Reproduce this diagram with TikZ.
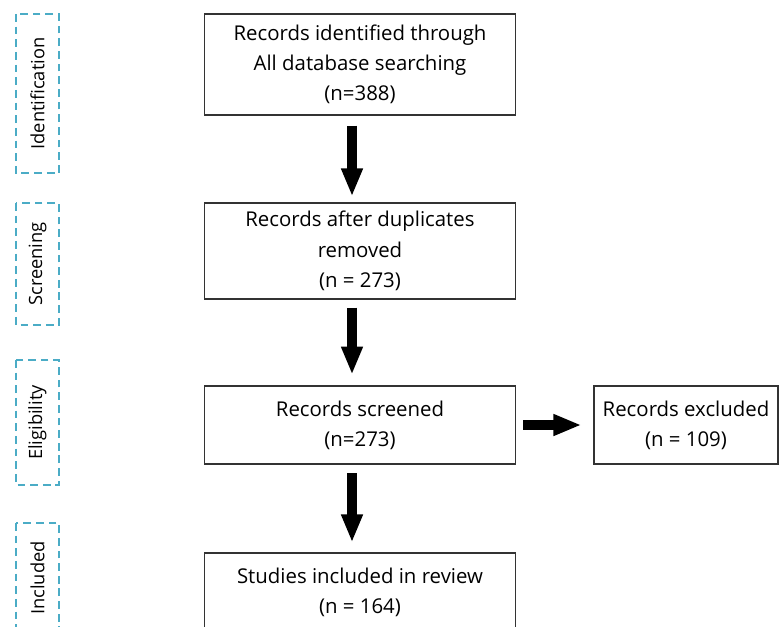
\documentclass[tikz,border=0pt]{standalone}
\usepackage{fontspec}
\setmainfont{Open Sans}
\usetikzlibrary{arrows.meta}
\definecolor{phaseBlue}{HTML}{4BACC6}

\begin{document}
\begin{tikzpicture}[
      x=0.025cm, y=-0.025cm,
      font=\fontsize{14.5}{21.5}\selectfont,
      box/.style={draw=black!80, line width=0.8pt, minimum width=7.78cm,
                  align=center, inner sep=0pt},
      phase/.style={draw=phaseBlue, line width=1.4pt, dash pattern=on 5.5pt off 3.5pt,
                    rotate=90, minimum height=1.075cm, inner sep=0pt,
                    font=\fontsize{13}{15}\selectfont},
      blockarrow/.style={line width=0.25cm, -{Triangle[width=0.5cm, length=0.7cm]}}
    ]
    \useasboundingbox (0,0) rectangle (780,626);
    % stages on the left
    \node[phase, minimum width=3.975cm] (idlab) at (37.5,93.5) {Identification};
    \node[phase, minimum width=3.05cm]  (scrlab) at (37.5,264) {Screening};
    \node[phase, minimum width=3.125cm] (eliglab) at (37.5,422.5) {Eligibility};
    \node[phase, minimum width=2.75cm]  (incllab) at (37.5,578) {Included};
    % main boxes
    \node[box, minimum height=2.525cm] (ident) at (360,64.5)
      {Records identified through\\All database searching\\(n=388)};
    \node[box, minimum height=2.4cm] (dedup) at (360,251)
      {Records after duplicates\\removed\\(n = 273)};
    \node[box, minimum height=1.95cm] (screened) at (360,425)
      {Records screened\\(n=273)};
    \node[box, minimum width=4.6cm, minimum height=1.95cm] (excl) at (686,425)
      {Records excluded\\(n = 109)};
    \node[box, minimum height=1.95cm] (incl) at (360,592)
      {Studies included in review\\(n = 164)};
    % arrows
    \draw[blockarrow, shorten <=0.25cm, shorten >=0.15cm]
      ([xshift=-0.2cm]ident.south) -- ([xshift=-0.2cm]dedup.north);
    \draw[blockarrow, shorten <=0.2cm, shorten >=0.27cm]
      ([xshift=-0.2cm]dedup.south) -- ([xshift=-0.2cm]screened.north);
    \draw[blockarrow, shorten <=0.22cm, shorten >=0.25cm]
      ([xshift=-0.2cm]screened.south) -- ([xshift=-0.2cm]incl.north);
    \draw[blockarrow, shorten <=0.18cm, shorten >=0.3cm]
      (screened.east) -- (excl.west);
  \end{tikzpicture}
\end{document}
